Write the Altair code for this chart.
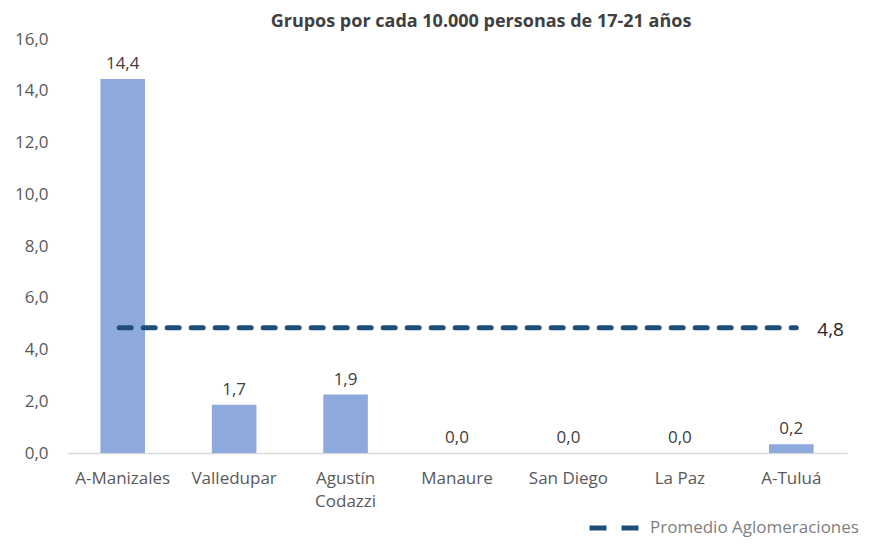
import altair as alt
import pandas as pd

categories = ["A-Manizales", "Valledupar", "Agustín Codazzi", "Manaure", "San Diego", "La Paz", "A-Tuluá"]
bar_values = [14.45, 1.86, 2.26, 0.0, 0.0, 0.0, 0.34]
bar_labels = ["14,4", "1,7", "1,9", "0,0", "0,0", "0,0", "0,2"]
mean_value = 4.84
mean_label = "4,8"
series_name = "Promedio Aglomeraciones"
y_ticks = [0, 2, 4, 6, 8, 10, 12, 14, 16]
title_text = "Grupos por cada 10.000 personas de 17-21 años"

FONT = "Open Sans"
BAR = "#8EA9DB"
NAVY = "#1F4E79"

df = pd.DataFrame({"cat": categories, "value": bar_values, "label": bar_labels})
df_mean = pd.DataFrame({
    "x1": [categories[0]], "x2": [categories[-1]],
    "y": [mean_value], "series": [series_name], "label": [mean_label],
})

xscale = alt.Scale(domain=categories, paddingInner=0.6, paddingOuter=0.3)
yscale = alt.Scale(domain=[0, 16], nice=False)

x_enc = alt.X(
    "cat:N", sort=categories, scale=xscale,
    axis=alt.Axis(
        title=None, labelAngle=0, ticks=False, domainColor="#D9D9D9", domainWidth=1.5,
        labelFont=FONT, labelFontSize=17, labelColor="#595959", labelPadding=17,
        labelLineHeight=23, labelBaseline="top",
        labelExpr="datum.label == 'Agustín Codazzi' ? ['Agustín', 'Codazzi'] : datum.label",
    ),
)
y_enc = alt.Y(
    "value:Q", scale=yscale,
    axis=alt.Axis(
        title=None, values=y_ticks, grid=False, domain=False, ticks=False,
        labelFont=FONT, labelFontSize=17, labelColor="#595959", labelPadding=19,
        labelExpr="replace(format(datum.value, '.1f'), '.', ',')",
    ),
)

bars = alt.Chart(df).mark_bar(color=BAR).encode(x=x_enc, y=y_enc)

bar_text = alt.Chart(df).mark_text(
    baseline="bottom", dy=-6, font=FONT, fontSize=17, color="#404040"
).encode(x=alt.X("cat:N", sort=categories, scale=xscale), y=alt.Y("value:Q", scale=yscale), text="label:N")

mean_rule = alt.Chart(df_mean).mark_rule(
    strokeWidth=5, strokeDash=[12, 12], strokeCap="round", xOffset=-3.5, x2Offset=5
).encode(
    x=alt.X("x1:N", scale=xscale),
    x2="x2:N",
    y=alt.Y("y:Q", scale=yscale),
    stroke=alt.Stroke(
        "series:N", scale=alt.Scale(domain=[series_name], range=[NAVY]),
        legend=alt.Legend(
            title=None, orient="none", legendX=520, legendY=462, padding=0,
            symbolType="stroke", symbolSize=2401, symbolStrokeWidth=5,
            symbolDash=[17, 15], labelFont=FONT, labelFontSize=17,
            labelColor="#7F7F7F", labelOffset=9, labelLimit=400,
        ),
    ),
)

mean_text = alt.Chart(df_mean).mark_text(
    align="left", baseline="middle", dx=26, dy=2, font=FONT, fontSize=19, color="#262626"
).encode(x=alt.X("x2:N", scale=xscale), y=alt.Y("y:Q", scale=yscale), text="label:N")

chart = alt.layer(bars, bar_text, mean_rule, mean_text).properties(
    width=780, height=414,
    title=alt.TitleParams(
        title_text, font=FONT, fontSize=18, fontWeight="bold", color="#404040",
        anchor="middle", frame="group", dx=24, offset=-1,
    ),
    autosize=alt.AutoSizeParams(type="none"),
    padding={"left": 59, "top": 31, "right": 14, "bottom": 86},
).configure_view(stroke=None)

chart.save("out.html", embed_options={"renderer": "svg", "actions": False})
